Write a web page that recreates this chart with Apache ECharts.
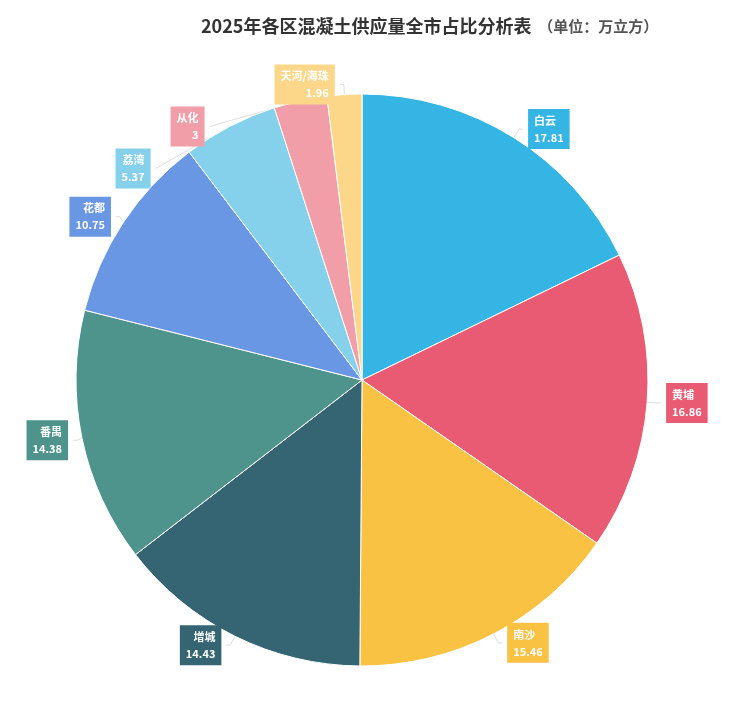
<!DOCTYPE html>
<html><head><meta charset="utf-8">
<script src="https://cdn.jsdelivr.net/npm/echarts@6/dist/echarts.min.js"></script>
<style>html,body{margin:0;padding:0;background:#fff}#c{width:742px;height:714px}</style>
</head><body><div id="c"></div>
<script>
const categories=['白云','黄埔','南沙','增城','番禺','花都','荔湾','从化','天河/海珠'];
const values=[17.81,16.86,15.46,14.43,14.38,10.75,5.37,3,1.96];
const colors=['#35b5e3','#e95b73','#f9c243','#356472','#4e948c','#6a97e3','#85d1ec','#f19ea9','#fcd78a'];
const chart=echarts.init(document.getElementById('c'));
chart.setOption({
  title:{text:'{a|2025年各区混凝土供应量全市占比分析表}{b|  （单位：万立方）}',left:196,top:12,
    textStyle:{rich:{a:{fontSize:18,fontWeight:'bold',color:'#333',fontFamily:'Noto Sans CJK SC'},b:{fontSize:15,color:'#555',fontFamily:'Noto Sans CJK SC'}}}},
  series:[{type:'pie',center:['362','380'],radius:286,startAngle:90,clockwise:true,
    itemStyle:{borderColor:'#fff',borderWidth:1},
    data:categories.map((n,i)=>({name:n,value:values[i],itemStyle:{color:colors[i]},
      label:{backgroundColor:colors[i]}})),
    label:{show:true,position:'outside',formatter:'{b}\n{c}',color:'#fff',fontSize:11,fontWeight:'bold',
      lineHeight:17,padding:[3,6],align:'center',fontFamily:'Noto Sans CJK SC'},
    labelLine:{show:true,length:10,length2:4,lineStyle:{color:'#ddd'}}
  }]
});
</script></body></html>
